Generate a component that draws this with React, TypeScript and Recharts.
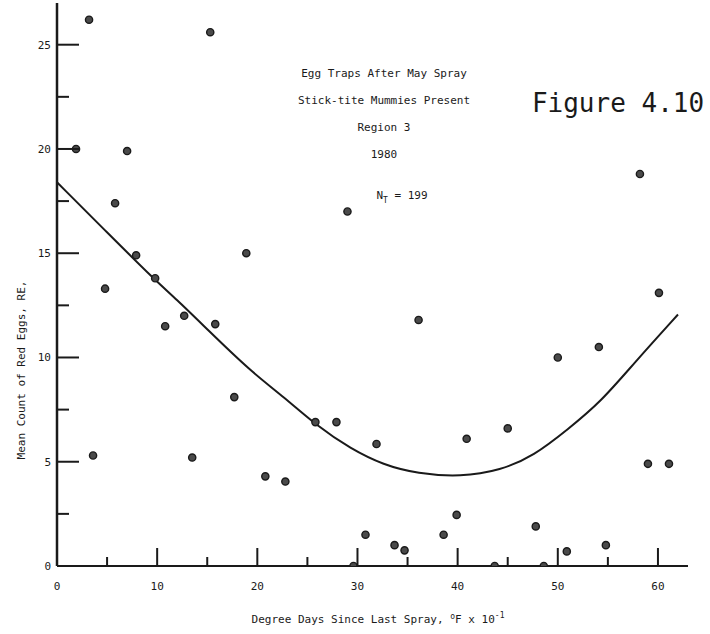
import { ComposedChart, XAxis, YAxis, Line, Scatter, Customized } from "recharts";

// observed trap means
const degreeDays = [3.2, 15.3, 1.9, 7.0, 5.8, 7.9, 18.9, 9.8, 4.8, 12.7, 15.8, 10.8, 17.7, 3.6, 13.5, 20.8, 22.8, 25.8, 27.9, 31.9, 29.0, 36.1, 40.9, 45.0, 50.0, 54.1, 58.2, 60.1, 59.0, 61.1, 39.9, 30.8, 38.6, 47.8, 33.7, 34.7, 29.6, 43.7, 48.6, 50.9, 54.8];
const meanCount = [26.2, 25.6, 20.0, 19.9, 17.4, 14.9, 15.0, 13.8, 13.3, 12.0, 11.6, 11.5, 8.1, 5.3, 5.2, 4.3, 4.05, 6.9, 6.9, 5.85, 17.0, 11.8, 6.1, 6.6, 10.0, 10.5, 18.8, 13.1, 4.9, 4.9, 2.45, 1.5, 1.5, 1.9, 1.0, 0.75, 0, 0, 0, 0.7, 1.0];

// fitted curve
const fitX = [0, 5, 9.8, 11.8, 15, 19.3, 22.6, 26, 29.3, 32.6, 36, 40.3, 44.3, 47.6, 51, 54.3, 57.6, 62];
const fitY = [18.4, 16.0, 13.7, 12.85, 11.35, 9.35, 8.13, 6.7, 5.63, 4.84, 4.43, 4.27, 4.59, 5.28, 6.55, 7.87, 9.72, 12.06];

const xTicks = [0, 5, 10, 15, 20, 25, 30, 35, 40, 45, 50, 55, 60];
const yTicks = [0, 2.5, 5, 7.5, 10, 12.5, 15, 17.5, 20, 22.5, 25];

const titleLines = ["Egg Traps After May Spray", "Stick-tite Mummies Present", "Region 3", "1980"];

const points = degreeDays.map((x, i) => ({ x, y: meanCount[i] }));
const fit = fitX.map((x, i) => ({ x, y: fitY[i] }));

const ink = "#1a1a1a";
const mono = "'DejaVu Sans Mono', monospace";

function XTick({ x, y, payload }: any) {
  const v = payload.value;
  const major = v % 10 === 0;
  return (
    <g>
      {v !== 0 && <line x1={x} y1={y} x2={x} y2={y - (major ? 18 : 9)} stroke={ink} strokeWidth={2} />}
      {major && (
        <text x={x} y={y + 24} textAnchor="middle" fontFamily={mono} fontSize={11} fill={ink}>
          {v}
        </text>
      )}
    </g>
  );
}

function YTick({ x, y, payload }: any) {
  const v = payload.value;
  const major = v % 5 === 0;
  return (
    <g>
      {v !== 0 && <line x1={x} y1={y} x2={x + (major ? 22 : 12)} y2={y} stroke={ink} strokeWidth={2} />}
      {major && (
        <text x={x - 6} y={y + 4} textAnchor="end" fontFamily={mono} fontSize={11} fill={ink}>
          {v}
        </text>
      )}
    </g>
  );
}

function Dot({ cx, cy }: any) {
  return <circle cx={cx} cy={cy} r={3.6} fill="#4a4a4a" stroke={ink} strokeWidth={1.4} />;
}

function Notes() {
  return (
    <g fontFamily={mono} fill={ink}>
      {titleLines.map((t, i) => (
        <text key={t} x={384} y={77 + i * 27} textAnchor="middle" fontSize={11}>
          {t}
        </text>
      ))}
      <text x={402} y={199} textAnchor="middle" fontSize={11}>
        N<tspan fontSize={8} dy={4}>T</tspan>
        <tspan dy={-4}> = 199</tspan>
      </text>
      <text x={618} y={112} textAnchor="middle" fontSize={26}>
        Figure 4.10
      </text>
      <text x={378} y={623} textAnchor="middle" fontSize={11}>
        Degree Days Since Last Spray, <tspan fontSize={8} dy={-4}>o</tspan>
        <tspan dy={4}>F x 10</tspan>
        <tspan fontSize={8} dy={-5}>-1</tspan>
      </text>
      <text x={25} y={370} textAnchor="middle" fontSize={11} transform="rotate(-90 25 370)">
        Mean Count of Red Eggs, RE,
      </text>
    </g>
  );
}

export default function App() {
  return (
    <div style={{ position: "absolute", left: 0, top: 0, background: "#fff" }}>
      <ComposedChart width={710} height={634} margin={{ top: 3, right: 22, bottom: 0, left: 0 }}>
        <XAxis
          type="number"
          dataKey="x"
          domain={[0, 63]}
          ticks={xTicks}
          height={68}
          tickSize={0}
          tickMargin={0}
          tickLine={false}
          tick={<XTick />}
          axisLine={{ stroke: ink, strokeWidth: 2 }}
          allowDataOverflow
        />
        <YAxis
          type="number"
          dataKey="y"
          domain={[0, 27]}
          ticks={yTicks}
          width={57}
          tickSize={0}
          tickMargin={0}
          tickLine={false}
          tick={<YTick />}
          axisLine={{ stroke: ink, strokeWidth: 2.5 }}
          allowDataOverflow
        />
        <Line data={fit} dataKey="y" type="basis" stroke={ink} strokeWidth={2} dot={false} isAnimationActive={false} />
        <Scatter data={points} dataKey="y" shape={<Dot />} isAnimationActive={false} />
        <Customized component={Notes} />
      </ComposedChart>
    </div>
  );
}
